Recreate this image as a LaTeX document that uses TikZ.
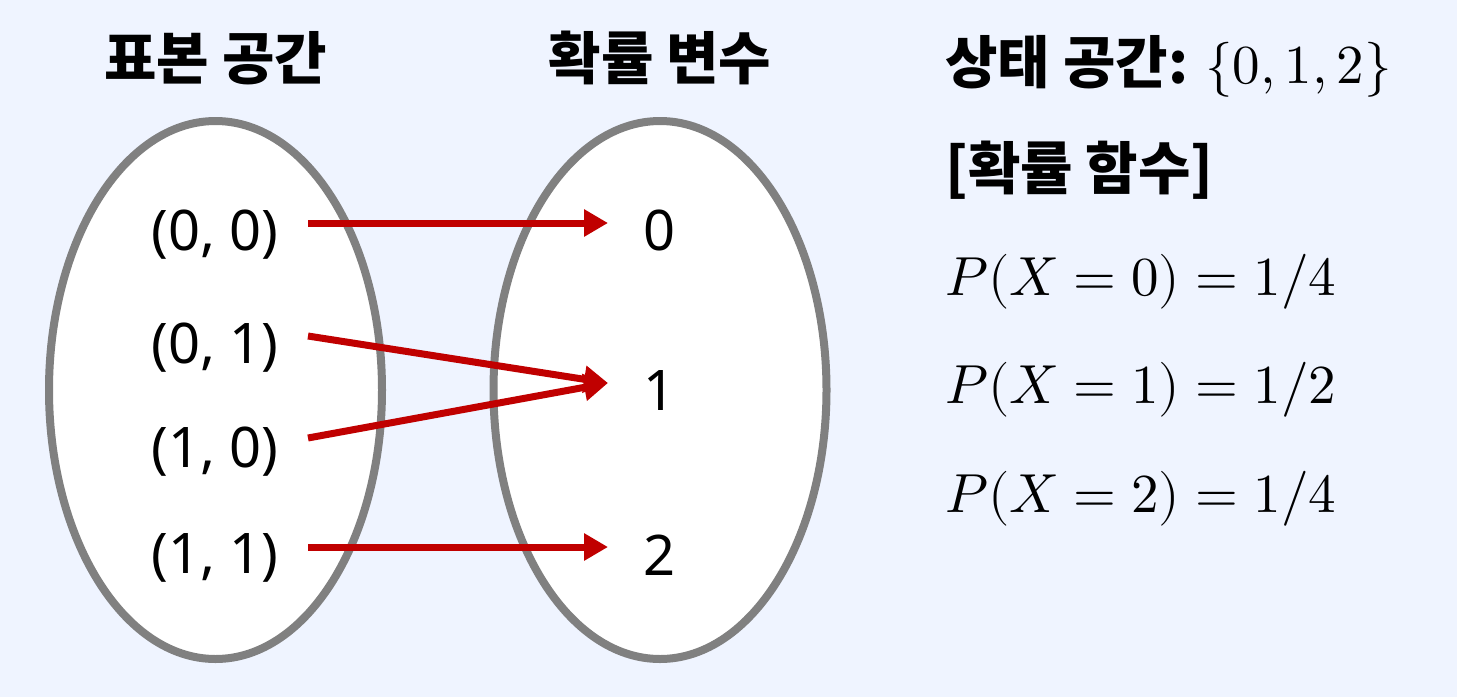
\documentclass[tikz,border=0pt]{standalone}
\usepackage{fontspec}
\usepackage{unicode-math}
\setmainfont{Noto Sans}
\setmathfont{Latin Modern Math}
\newfontfamily\kr{Noto Sans CJK KR}
\usetikzlibrary{shapes.geometric,arrows.meta}
\definecolor{bgblue}{HTML}{EFF4FF}
\definecolor{setgray}{HTML}{808080}
\definecolor{arrred}{HTML}{C00000}
\begin{document}
\begin{tikzpicture}[x=1pt,y=-1pt,
  setbox/.style={ellipse,draw=setgray,fill=white,line width=8pt,minimum width=333pt,minimum height=538pt,inner sep=0pt},
  title/.style={font=\kr\bfseries\fontsize{57}{57}\selectfont,anchor=base,inner sep=0pt},
  lbl/.style={font=\fontsize{56}{56}\selectfont,anchor=base,inner sep=0pt},
  info/.style={font=\kr\bfseries\fontsize{57}{57}\selectfont,anchor=base west,inner sep=0pt},
  prob/.style={font=\fontsize{55}{55}\selectfont,anchor=base west,inner sep=0pt},
  maparrow/.style={draw=arrred,line width=7pt,-{Triangle[length=24pt,width=26pt]}}]
\fill[bgblue] (0,0) rectangle (1457,697);
\useasboundingbox (0,0) rectangle (1457,697);
\node[setbox] (S) at (215.5,390) {};
\node[setbox] (X) at (660,390) {};
\node[title] (tS) at (215.5,79) {표본 공간};
\node[title] (tX) at (660,79) {확률 변수};
\node[lbl] (a) at (215,250) {(0, 0)};
\node[lbl] (b) at (215,363) {(0, 1)};
\node[lbl] (c) at (215,467) {(1, 0)};
\node[lbl] (d) at (215,573) {(1, 1)};
\node[lbl] (x0) at (660,250) {0};
\node[lbl] (x1) at (660,410) {1};
\node[lbl] (x2) at (660,575) {2};
\coordinate (sa) at (308,223);
\coordinate (sb) at (308,336);
\coordinate (sc) at (308,438);
\coordinate (sd) at (308,547);
\coordinate (t0) at (608,223);
\coordinate (t1) at (608,383);
\coordinate (t2) at (608,547);
\draw[maparrow] (sa) -- (t0);
\draw[maparrow] (sb) -- (t1);
\draw[maparrow] (sc) -- (t1);
\draw[maparrow] (sd) -- (t2);
\node[info] (st) at (945,83) {상태 공간: \mdseries\fontsize{55}{55}\selectfont$\{0, 1, 2\}$};
\node[info] (pf) at (945,189) {[확률 함수]};
\node[prob] (p0) at (945,295) {$P(X = 0) = 1/4$};
\node[prob] (p1) at (945,403) {$P(X = 1) = 1/2$};
\node[prob] (p2) at (945,512) {$P(X = 2) = 1/4$};
\end{tikzpicture}
\end{document}
